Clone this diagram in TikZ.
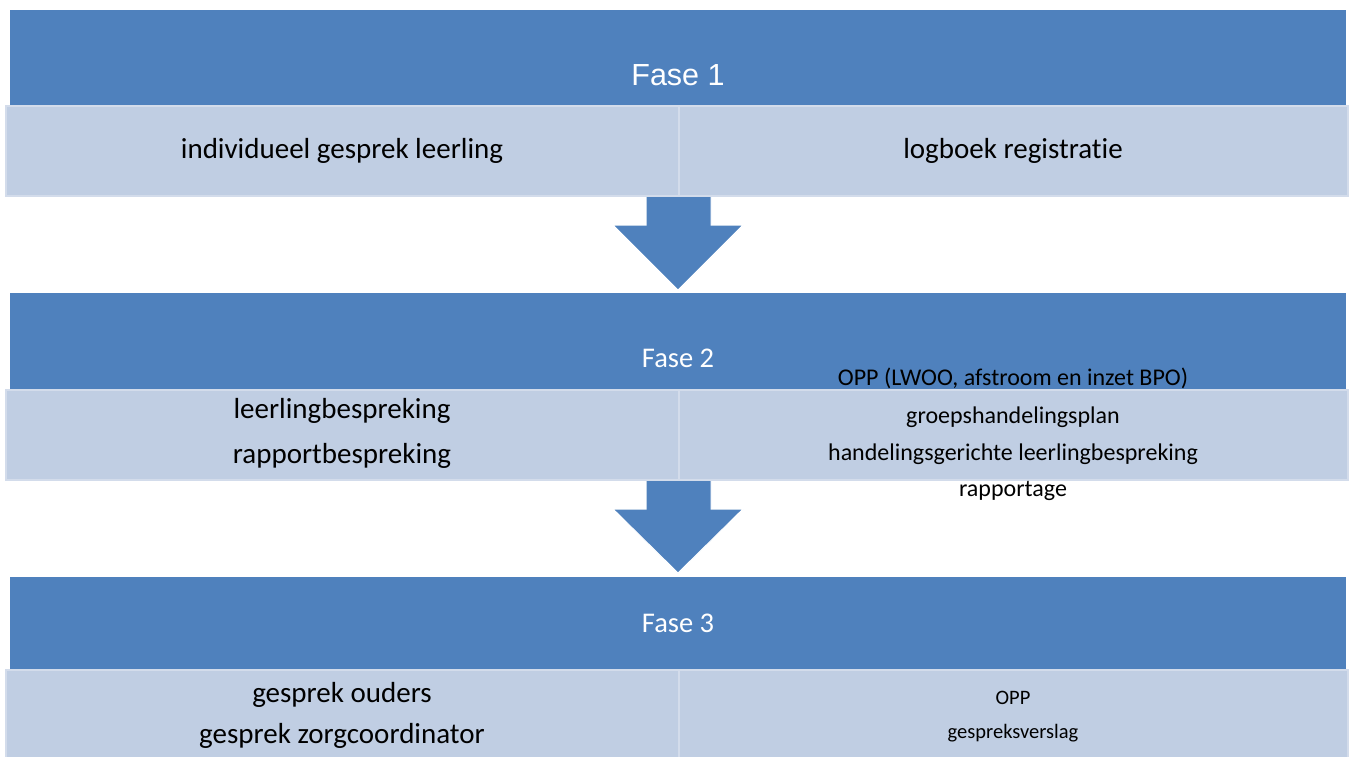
\documentclass[tikz,border=0pt]{standalone}
\usepackage{fontspec}
\setmainfont{Carlito}[RawFeature={-liga;-clig}]
\newfontfamily\arialf{Liberation Sans}
\definecolor{darkb}{HTML}{4F81BD}
\definecolor{lightb}{HTML}{C0CEE3}
\definecolor{lborder}{HTML}{D3DCEB}
\begin{document}
\begin{tikzpicture}[x=1pt,y=-1pt,
  band/.style={rectangle,fill=darkb,draw=none,minimum width=1336pt,inner sep=0pt,anchor=north west},
  cell/.style={rectangle,fill=lightb,draw=lborder,line width=2pt,inner sep=0pt,anchor=north west,minimum height=90pt},
  blockarrow/.style={fill=darkb,draw=white,line width=1pt},
  phase/.style={text=white,anchor=base,inner sep=0pt,font=\fontsize{28.5}{34}\selectfont},
  big/.style={text=black,anchor=base,inner sep=0pt,font=\fontsize{29}{35}\selectfont},
  mid/.style={text=black,anchor=base,inner sep=0pt,font=\fontsize{24}{29}\selectfont},
  small/.style={text=black,anchor=base,inner sep=0pt,font=\fontsize{20.5}{25}\selectfont}]
\useasboundingbox (0,0) rectangle (1349,756);
% bands
\node[band,minimum height=95pt] (b1) at (10,10) {};
\node[band,minimum height=96pt] (b2) at (10,293) {};
\node[band,minimum height=92pt] (b3) at (10,577) {};
% arrows
\draw[blockarrow] (646,190) -- (711,190) -- (711,225) -- (743,225) -- (678,290) -- (613,225) -- (646,225) -- cycle;
\draw[blockarrow] (646,474) -- (711,474) -- (711,509) -- (743,509) -- (678,573) -- (613,509) -- (646,509) -- cycle;
% cells
\node[cell,minimum width=673pt] (c1l) at (5,105) {};
\node[cell,minimum width=669pt] (c1r) at (678,105) {};
\node[cell,minimum width=673pt] (c2l) at (5,389) {};
\node[cell,minimum width=669pt] (c2r) at (678,389) {};
\node[cell,minimum width=673pt,minimum height=95pt] (c3l) at (5,669) {};
\node[cell,minimum width=669pt,minimum height=95pt] (c3r) at (678,669) {};
% phase titles
\node[phase,font=\arialf\fontsize{30.5}{36}\selectfont] (f1) at (678,85) {Fase 1};
\node[phase] (f2) at (678,367) {Fase 2};
\node[phase] (f3) at (678,632) {Fase 3};
% texts
\node[big] (t1l) at (342,158) {individueel gesprek leerling};
\node[big] (t1r) at (1013,158) {logboek registratie};
\node[big] (t2la) at (342,418) {leerlingbespreking};
\node[big] (t2lb) at (342,463) {rapportbespreking};
\node[mid] (t2ra) at (1013,385) {OPP (LWOO, afstroom en inzet BPO)};
\node[mid] (t2rb) at (1013,423) {groepshandelingsplan};
\node[mid] (t2rc) at (1013,460) {handelingsgerichte leerlingbespreking};
\node[mid] (t2rd) at (1013,496) {rapportage};
\node[big] (t3la) at (342,702) {gesprek ouders};
\node[big] (t3lb) at (342,743) {gesprek zorgcoordinator};
\node[small] (t3ra) at (1013,704) {OPP};
\node[small] (t3rb) at (1013,738) {gespreksverslag};
\end{tikzpicture}
\end{document}
